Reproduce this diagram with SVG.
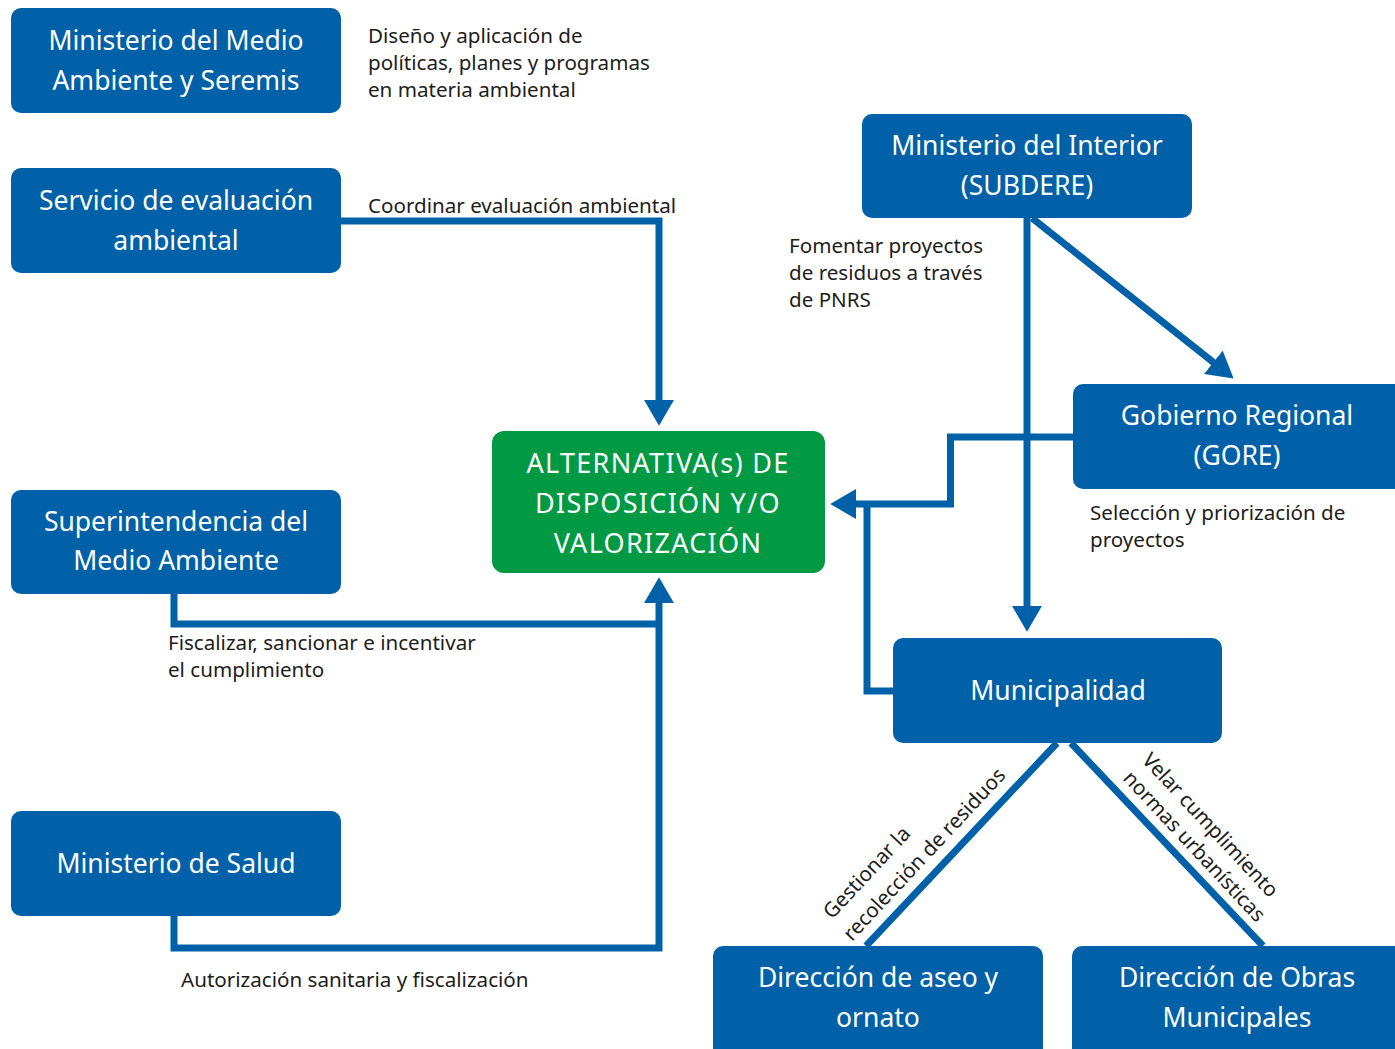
<svg xmlns="http://www.w3.org/2000/svg" width="1395" height="1049" viewBox="0 0 1395 1049">
<defs>
<style>
.box{fill:#0061A8;}
.green{fill:#009A44;}
.bt{font-family:"Noto Sans","Open Sans",sans-serif;font-size:26.5px;fill:#ffffff;text-anchor:middle;}
.gt{font-family:"Noto Sans","Open Sans",sans-serif;font-size:27px;fill:#ffffff;text-anchor:middle;letter-spacing:1.3px;}
.lbl{font-family:"Noto Sans","Open Sans",sans-serif;font-size:20.6px;fill:#1d1d1b;}
.con{fill:none;stroke:#0061A8;stroke-width:7;stroke-linejoin:miter;stroke-linecap:butt;}
</style>
<marker id="ah" markerUnits="userSpaceOnUse" markerWidth="26" markerHeight="30" viewBox="0 0 25 29" refX="3" refY="14.5" orient="auto">
<path d="M0,0 L25,14.5 L0,29 z" fill="#0061A8"/>
</marker>
</defs>
<rect width="1395" height="1049" fill="#ffffff"/>
<g id="connectors">
<path class="con" d="M341,221 H659 V403" marker-end="url(#ah)"/>
<path class="con" d="M174,594 V624 H659"/>
<path class="con" d="M174,916 V948 H659 V600" marker-end="url(#ah)"/>
<path class="con" d="M1027,218 V609" marker-end="url(#ah)"/>
<path class="con" d="M1032,218 L1215.8,364.3" marker-end="url(#ah)"/>
<path class="con" d="M1073,437 H950.5 V504 H853" marker-end="url(#ah)"/>
<path class="con" d="M893,691 H867 V504"/>
<path class="con" d="M1057,743 L866,946"/>
<path class="con" d="M1071,743 L1263,946"/>
</g>
<g id="n-mma">
<rect class="box" x="11" y="8" width="330" height="105" rx="10"/>
<text class="bt" x="176" y="50">Ministerio del Medio</text>
<text class="bt" x="176" y="90">Ambiente y Seremis</text>
</g>
<g id="n-sea">
<rect class="box" x="11" y="168" width="330" height="105" rx="10"/>
<text class="bt" x="176" y="210">Servicio de evaluación</text>
<text class="bt" x="176" y="250">ambiental</text>
</g>
<g id="n-sma">
<rect class="box" x="11" y="490" width="330" height="104" rx="10"/>
<text class="bt" x="176" y="531">Superintendencia del</text>
<text class="bt" x="176" y="570">Medio Ambiente</text>
</g>
<g id="n-salud">
<rect class="box" x="11" y="811" width="330" height="105" rx="10"/>
<text class="bt" x="176" y="873">Ministerio de Salud</text>
</g>
<g id="n-alt">
<rect class="green" x="492" y="431" width="333" height="142" rx="12"/>
<text class="gt" x="658" y="473">ALTERNATIVA(s) DE</text>
<text class="gt" x="658" y="513">DISPOSICIÓN Y/O</text>
<text class="gt" x="658" y="553">VALORIZACIÓN</text>
</g>
<g id="n-interior">
<rect class="box" x="862" y="114" width="330" height="104" rx="10"/>
<text class="bt" x="1027" y="155">Ministerio del Interior</text>
<text class="bt" x="1027" y="195">(SUBDERE)</text>
</g>
<g id="n-gore">
<rect class="box" x="1073" y="384" width="340" height="105" rx="10"/>
<text class="bt" x="1237" y="425">Gobierno Regional</text>
<text class="bt" x="1237" y="465">(GORE)</text>
</g>
<g id="n-muni">
<rect class="box" x="893" y="638" width="329" height="105" rx="10"/>
<text class="bt" x="1058" y="700">Municipalidad</text>
</g>
<g id="n-aseo">
<rect class="box" x="713" y="946" width="330" height="115" rx="10"/>
<text class="bt" x="878" y="987">Dirección de aseo y</text>
<text class="bt" x="878" y="1027">ornato</text>
</g>
<g id="n-obras">
<rect class="box" x="1072" y="946" width="340" height="115" rx="10"/>
<text class="bt" x="1237" y="987">Dirección de Obras</text>
<text class="bt" x="1237" y="1027">Municipales</text>
</g>
<g id="labels">
<text class="lbl" x="368" y="43">Diseño y aplicación de</text>
<text class="lbl" x="368" y="70">políticas, planes y programas</text>
<text class="lbl" x="368" y="97">en materia ambiental</text>
<text class="lbl" x="368" y="213">Coordinar evaluación ambiental</text>
<text class="lbl" x="789" y="253">Fomentar proyectos</text>
<text class="lbl" x="789" y="280">de residuos a través</text>
<text class="lbl" x="789" y="307">de PNRS</text>
<text class="lbl" x="1090" y="520">Selección y priorización de</text>
<text class="lbl" x="1090" y="547">proyectos</text>
<text class="lbl" x="168" y="650">Fiscalizar, sancionar e incentivar</text>
<text class="lbl" x="168" y="677">el cumplimiento</text>
<text class="lbl" x="181" y="987">Autorización sanitaria y fiscalización</text>
<text class="lbl" transform="translate(832,920) rotate(-47)">Gestionar la</text>
<text class="lbl" transform="translate(852,942) rotate(-47)">recolección de residuos</text>
<text class="lbl" transform="translate(1141,761) rotate(47)">Velar cumplimiento</text>
<text class="lbl" transform="translate(1122,779) rotate(47)">normas urbanísticas</text>
</g>
</svg>
